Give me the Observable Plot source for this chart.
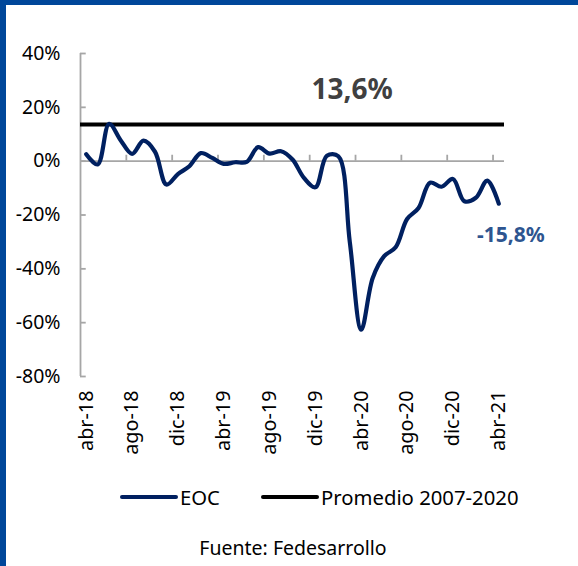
<!DOCTYPE html>
<html>
<head>
<meta charset="utf-8">
<script src="https://cdn.jsdelivr.net/npm/d3@7"></script>
<script src="https://cdn.jsdelivr.net/npm/@observablehq/plot@0.6"></script>
<style>
  html, body { margin: 0; padding: 0; background: #fff; }
  #page { position: relative; width: 578px; height: 566px; overflow: hidden; font-family: "Noto Sans", sans-serif; }
  #page svg { position: absolute; left: 0; }
  .bl { position: absolute; left: 0; top: 0; width: 6px; height: 566px; background: #00479a; }
  .bt { position: absolute; left: 0; top: 0; width: 578px; height: 5px; background: #00479a; }
</style>
</head>
<body>
<div id="page"></div>
<script>
// ---- data ----
const months = ["abr-18","may-18","jun-18","jul-18","ago-18","sep-18","oct-18","nov-18","dic-18",
  "ene-19","feb-19","mar-19","abr-19","may-19","jun-19","jul-19","ago-19","sep-19","oct-19","nov-19","dic-19",
  "ene-20","feb-20","mar-20","abr-20","may-20","jun-20","jul-20","ago-20","sep-20","oct-20","nov-20","dic-20",
  "ene-21","feb-21","mar-21","abr-21"];
const eoc = [2.6, -1.2, 13.9, 7.8, 2.7, 7.6, 3.5, -8.7, -4.8, -1.9, 3.0, 1.2, -1.0, -0.4, -0.3, 5.2, 2.8, 3.7, 0.6, -6.2, -9.7,
  2.0, 1.8, -30.0, -62.6, -43.4, -35.3, -32.0, -21.5, -17.4, -8.0, -9.5, -6.6, -14.9, -13.6, -7.2, -15.8];
const promedio = 13.6;
const yTicks = [40, 20, 0, -20, -40, -60, -80];
const tickLabels = ["abr-18","ago-18","dic-18","abr-19","ago-19","dic-19","abr-20","ago-20","dic-20","abr-21"];
const seriesNames = ["EOC", "Promedio 2007-2020"];
const seriesColors = ["#002060", "#000000"];
const source = "Fuente: Fedesarrollo";

const data = months.map((m, i) => ({i, m, v: eoc[i]}));
const xMin = -0.5, xMax = months.length - 0.5;
const labelIdx = tickLabels.map(t => months.indexOf(t));
const bounds = d3.range(3.5, months.length - 1, 4);
const axisColor = "#a6a6a6";
const last = data[data.length - 1];

const chart = Plot.plot({
  width: 578, height: 470,
  marginLeft: 80, marginRight: 74, marginTop: 53, marginBottom: 94,
  style: {fontFamily: "Noto Sans", background: "transparent"},
  x: {type: "linear", domain: [xMin, xMax], axis: null},
  y: {domain: [-80, 40], axis: null},
  marks: [
    Plot.ruleY([0], {x1: xMin, x2: xMax, stroke: axisColor, strokeWidth: 1.8}),
    Plot.ruleX(bounds, {x: d => d, y1: 0, y2: 2.2, stroke: axisColor, strokeWidth: 1.8}),
    Plot.ruleX([xMin], {y1: -80, y2: 40, stroke: axisColor, strokeWidth: 1.8}),
    Plot.ruleY(yTicks, {y: d => d, x1: xMin, x2: 0, stroke: axisColor, strokeWidth: 1.8}),
    Plot.ruleY([promedio], {x1: xMin, x2: xMax, stroke: seriesColors[1], strokeWidth: 4}),
    Plot.line(data, {x: "i", y: "v", curve: "catmull-rom", stroke: seriesColors[0], strokeWidth: 4.2}),
    Plot.text(yTicks, {x: xMin, y: d => d, text: d => d + "%", textAnchor: "end", dx: -20, fontSize: 19.5, fill: "#000"}),
    Plot.text(labelIdx, {x: d => d, y: -80, text: d => months[d], rotate: -90, textAnchor: "end", dy: 14, fontSize: 19.8, fill: "#000"}),
    Plot.text([promedio], {x: 23.2, y: d => d, text: d => String(d).replace(".", ",") + "%", lineAnchor: "bottom", dy: -26, fontSize: 28, fontWeight: "bold", fill: "#404040"}),
    Plot.text([last], {x: "i", y: "v", text: d => String(d.v).replace(".", ",") + "%", lineAnchor: "bottom", dx: 12, dy: 38, fontSize: 21, fontWeight: "bold", fill: "#2e5590"})
  ]
});
chart.style.top = "0px";
const page = document.getElementById("page");
page.appendChild(chart);

// legend + source below the plot
const leg = d3.create("svg").attr("width", 578).attr("height", 96).style("top", "470px")
  .attr("font-family", "Noto Sans");
const legX = [122, 263];
seriesNames.forEach((name, k) => {
  leg.append("line").attr("x1", legX[k]).attr("x2", legX[k] + 54).attr("y1", 27).attr("y2", 27)
    .attr("stroke", seriesColors[k]).attr("stroke-width", 4).attr("stroke-linecap", "round");
  leg.append("text").attr("x", legX[k] + 58).attr("y", 35).attr("font-size", 20.3).attr("fill", "#000").text(name);
});
leg.append("text").attr("x", 293).attr("y", 85).attr("text-anchor", "middle").attr("font-size", 19.5).attr("fill", "#000").text(source);
page.appendChild(leg.node());

const b1 = document.createElement("div"); b1.className = "bl"; page.appendChild(b1);
const b2 = document.createElement("div"); b2.className = "bt"; page.appendChild(b2);
</script>
</body>
</html>
